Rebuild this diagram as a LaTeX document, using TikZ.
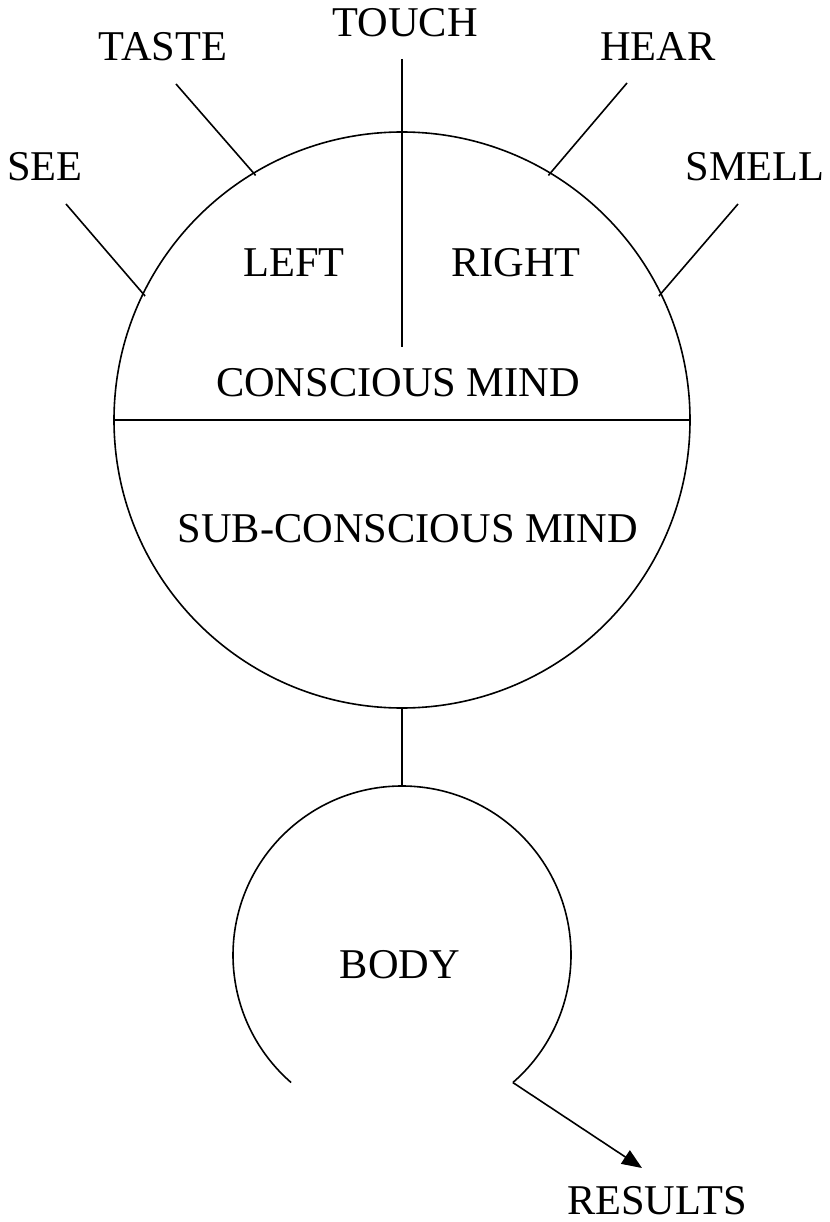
\documentclass[tikz,border=0pt]{standalone}
\usepackage{fontspec}
\setmainfont{Liberation Serif}
\usetikzlibrary{arrows.meta}
\begin{document}
\begin{tikzpicture}[x=1pt,y=-1pt,
  lbl/.style={inner sep=0pt,font=\fontsize{42.4}{50}\selectfont},
  ln/.style={line width=1.6pt,black},
  ring/.style={circle,inner sep=0pt,outer sep=0pt}]
\useasboundingbox (0,0) rectangle (829,1222);
% mind circle
\node[ring,draw,ln,minimum size=576pt] (mind) at (402,420) {};
% body circle (open at bottom)
\node[ring,minimum size=338pt] (body) at (402,955) {};
\draw[ln] (body.-49) arc[start angle=-49,end angle=229,radius=169pt];
% labels
\node[lbl] (see) at (45,167) {SEE};
\node[lbl] (taste) at (163,47) {TASTE};
\node[lbl] (touch) at (405,23) {TOUCH};
\node[lbl] (hear) at (658,47) {HEAR};
\node[lbl] (smell) at (755,167) {SMELL};
\node[lbl] (left) at (294,263) {LEFT};
\node[lbl] (right) at (516,263) {RIGHT};
\node[lbl] (cm) at (398,383) {CONSCIOUS MIND};
\node[lbl] (scm) at (408,529) {SUB-CONSCIOUS MIND};
\node[lbl] (bodyt) at (400,965) {BODY};
\node[lbl] (results) at (657,1201) {RESULTS};
% sense line ends
\coordinate (seeE) at (66,204);
\coordinate (tasteE) at (176,84);
\coordinate (touchT) at (402,59);
\coordinate (touchB) at (402,347);
\coordinate (hearE) at (627,83);
\coordinate (smellE) at (738,204);
\coordinate (tip) at (642,1168);
\draw[ln,shorten >=-3pt] (seeE) -- (mind.154);
\draw[ln,shorten >=-3pt] (tasteE) -- (mind.121);
\draw[ln,shorten >=-3pt] (hearE) -- (mind.59.7);
\draw[ln,shorten >=-3pt] (smellE) -- (mind.26.4);
\draw[ln] (touchT) -- (touchB);
\draw[ln] (mind.west) -- (mind.east);
\draw[ln] (mind.south) -- (body.north);
\draw[ln,-{Triangle[length=20pt,width=16pt]}] (body.-49) -- (tip);
\end{tikzpicture}
\end{document}
